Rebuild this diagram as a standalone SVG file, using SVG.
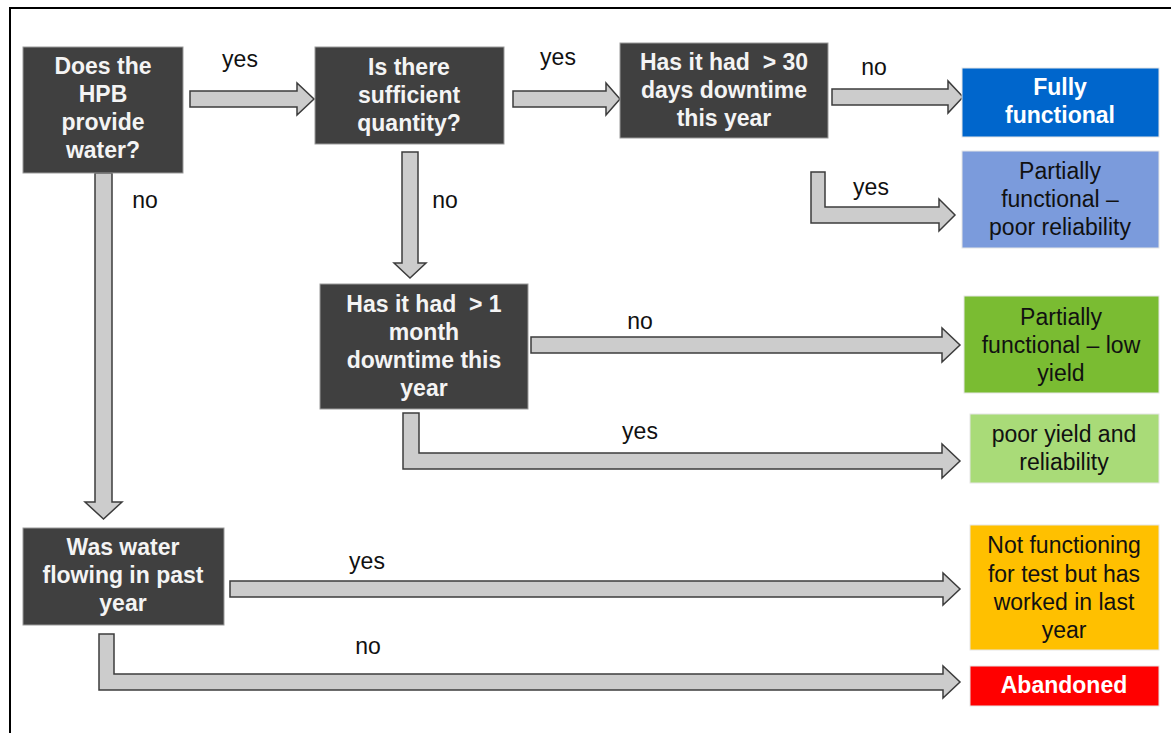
<svg xmlns="http://www.w3.org/2000/svg" width="1171" height="733" viewBox="0 0 1171 733">
<style>
text{font-family:"Liberation Sans",Arial,sans-serif;font-size:23px;text-anchor:middle}
.q rect{fill:#404040;stroke:#9a9a9a;stroke-width:1}
.q text{fill:#f4f4f4;font-weight:bold}
.r text{fill:#111}
.rb text{fill:#fff;font-weight:bold}
.res rect{stroke:#e6e6e6;stroke-width:1}
.arr polygon{fill:#cccccc;stroke:#3c3c3c;stroke-width:1.5;stroke-linejoin:miter}
.lbl text{fill:#111}
</style>
<rect x="10" y="8" width="1170" height="740" fill="#fff" stroke="#000" stroke-width="2"/>
<g id="connectors" class="arr">
<polygon points="190,91 297,91 297,83 314,99 297,115 297,107 190,107"/>
<polygon points="513,91 606,91 606,83 620,99 606,115 606,107 513,107"/>
<polygon points="832,89 948,89 948,81 963,97 948,113 948,105 832,105"/>
<polygon points="811,172 825,172 825,207 939,207 939,199 955,215 939,231 939,223 811,223"/>
<polygon points="95,173 112,173 112,502 122,502 103.5,519 85,502 95,502"/>
<polygon points="402,152 418,152 418,263 426,263 410,278 394,263 402,263"/>
<polygon points="531,337 942,337 942,328 960,345 942,362 942,353 531,353"/>
<polygon points="403,413 419,413 419,453 942,453 942,444 960,461 942,478 942,469 403,469"/>
<polygon points="230,581 943,581 943,573 960,589 943,605 943,597 230,597"/>
<polygon points="99,634 114,634 114,674 943,674 943,666 960,682 943,698 943,690 99,690"/>
</g>
<g id="labels" class="lbl">
<text x="240" y="67">yes</text>
<text x="558" y="65">yes</text>
<text x="874" y="75">no</text>
<text x="871" y="195">yes</text>
<text x="145" y="208">no</text>
<text x="445" y="208">no</text>
<text x="640" y="329">no</text>
<text x="640" y="439">yes</text>
<text x="367" y="569">yes</text>
<text x="368" y="654">no</text>
</g>
<g id="n1" class="q"><rect x="23" y="47" width="160" height="126"/>
<text x="103" y="74">Does the</text><text x="103" y="102">HPB</text><text x="103" y="130">provide</text><text x="103" y="158">water?</text></g>
<g id="n2" class="q"><rect x="315" y="47" width="189" height="97"/>
<text x="409" y="75">Is there</text><text x="409" y="103">sufficient</text><text x="409" y="131">quantity?</text></g>
<g id="n3" class="q"><rect x="620" y="43" width="208" height="95"/>
<text x="724" y="70" xml:space="preserve">Has it had  &gt; 30</text><text x="724" y="98">days downtime</text><text x="724" y="126">this year</text></g>
<g id="n4" class="q"><rect x="320" y="284" width="208" height="125"/>
<text x="424" y="312" xml:space="preserve">Has it had  &gt; 1</text><text x="424" y="340">month</text><text x="424" y="368">downtime this</text><text x="424" y="396">year</text></g>
<g id="n5" class="q"><rect x="23" y="528" width="201" height="97"/>
<text x="123" y="555">Was water</text><text x="123" y="583">flowing in past</text><text x="123" y="611">year</text></g>
<g id="fully" class="res rb"><rect x="962" y="68" width="197" height="69" fill="#0066cc"/>
<text x="1060" y="95">Fully</text><text x="1060" y="123">functional</text></g>
<g id="poorrel" class="res r"><rect x="962" y="151" width="197" height="97" fill="#7b9bdc"/>
<text x="1060" y="179">Partially</text><text x="1060" y="207">functional –</text><text x="1060" y="235">poor reliability</text></g>
<g id="lowyield" class="res r"><rect x="964" y="296" width="195" height="97" fill="#7abc32"/>
<text x="1061" y="325">Partially</text><text x="1061" y="353">functional – low</text><text x="1061" y="381">yield</text></g>
<g id="poorboth" class="res r"><rect x="970" y="414" width="189" height="69" fill="#a9db78"/>
<text x="1064" y="442">poor yield and</text><text x="1064" y="470">reliability</text></g>
<g id="notfunc" class="res r"><rect x="970" y="525" width="189" height="125" fill="#ffc000"/>
<text x="1064" y="553">Not functioning</text><text x="1064" y="582">for test but has</text><text x="1064" y="610">worked in last</text><text x="1064" y="638">year</text></g>
<g id="abandoned" class="res rb"><rect x="970" y="666" width="189" height="40" fill="#ff0000"/>
<text x="1064" y="693">Abandoned</text></g>
</svg>
